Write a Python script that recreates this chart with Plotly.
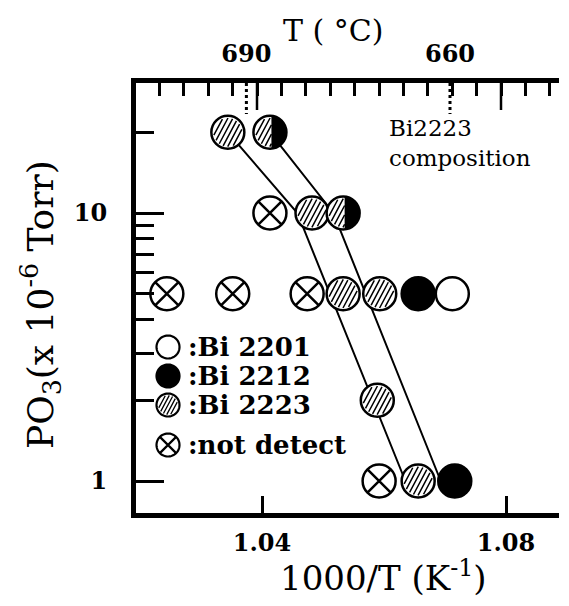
import numpy as np
import plotly.graph_objects as go

# ---------------- data ----------------
# x: 1000/T (K^-1), y: P_O3 (x 1e-6 Torr)
x_bi2201 = [1.0712]
y_bi2201 = [5]

x_bi2212 = [1.0656, 1.0716]
y_bi2212 = [5, 1]

x_bi2223 = [1.0344, 1.0482, 1.0533, 1.0593, 1.0589, 1.0656]
y_bi2223 = [20, 10, 5, 5, 2, 1]

x_mixed = [1.0413, 1.0533]          # Bi2223 + Bi2212 (half filled)
y_mixed = [20, 10]

x_notdet = [1.0244, 1.0352, 1.0474, 1.0413, 1.0592]
y_notdet = [5, 5, 5, 10, 1]

x_bound_lo = [1.0344, 1.0458, 1.0635]
y_bound_lo = [20, 10, 1]
x_bound_hi = [1.0413, 1.0517, 1.0693]
y_bound_hi = [20, 10, 1]

x_ticks = [1.04, 1.08]
x_ticklabels = ["1.04", "1.08"]
y_ticks = [1, 10]
y_ticklabels = ["1", "10"]
y_minor = [2, 3, 4, 5, 6, 7, 8, 9, 20]
top_T = [690, 660]                 # deg C
legend_labels = [":Bi 2201", ":Bi 2212", ":Bi 2223", ":not detect"]

# ---------------- layout geometry ----------------
PAGE_OFF = 8                        # default body margin of the html page
W, H = 569 - PAGE_OFF, 606 - PAGE_OFF
ML, MT = 136 - PAGE_OFF, 83 - PAGE_OFF
PW, PH = 423, 430
MR, MB = W - ML - PW, H - MT - PH
PX_X = 6100.0      # px per unit of 1000/T
PX_DEC = 268.0     # px per decade
x0 = 1.04 - 126 / PX_X
xrange_ = [x0, x0 + PW / PX_X]
y0 = -32 / PX_DEC
yrange_ = [y0, y0 + PH / PX_DEC]
top_shift = 5 / PX_X
xrange_top = [xrange_[0] + top_shift, xrange_[1] + top_shift]

# helpers: reference-picture pixel -> paper fraction
def px(xp):
    return (xp - 136) / PW

def py(yp):
    return (513 - yp) / PH

SERIF = "DejaVu Serif"
MS = 33        # marker diameter
MR_ = MS / 2
LW = 2.5


def circle_path(r, a0=0.0, a1=2 * np.pi, n=60):
    th = np.linspace(a0, a1, n)
    xs, ys = r * np.cos(th), r * np.sin(th)
    return "M" + " L".join(f"{x:.2f},{y:.2f}" for x, y in zip(xs, ys)) + " Z"


def hatch_path(r, spacing, ang=62, xmax=None):
    a = np.radians(ang)
    d = np.array([np.cos(a), np.sin(a)])
    nrm = np.array([-np.sin(a), np.cos(a)])
    m = int(2 * r / spacing)
    offs = (np.arange(m) - (m - 1) / 2) * spacing
    parts = []
    for off in offs:
        h = np.sqrt(max(r * r - off * off, 0))
        t0, t1 = -h, h
        if xmax is not None:
            tl = (xmax - off * nrm[0]) / d[0]
            t1 = min(t1, tl)
        if t1 - t0 < 1:
            continue
        p0 = off * nrm + t0 * d
        p1 = off * nrm + t1 * d
        parts.append(f"M{p0[0]:.2f},{p0[1]:.2f} L{p1[0]:.2f},{p1[1]:.2f}")
    return " ".join(parts)


def x_path(r):
    c = r / np.sqrt(2)
    return f"M{-c:.2f},{-c:.2f} L{c:.2f},{c:.2f} M{-c:.2f},{c:.2f} L{c:.2f},{-c:.2f}"


def half_black_path(r, xcut):
    th = np.linspace(-np.pi / 2, np.pi / 2, 40)
    pts = [(max(r * np.cos(t), xcut), r * np.sin(t)) for t in th]
    s = f"M{xcut:.2f},{-r:.2f} L" + " L".join(f"{x:.2f},{y:.2f}" for x, y in pts)
    return s + f" L{xcut:.2f},{r:.2f} Z"


def pshape(path, xref, yref, xa, ya, lw=0.0, fill=None):
    d = dict(type="path", xref=xref, yref=yref, xsizemode="pixel", ysizemode="pixel",
             xanchor=xa, yanchor=ya, path=path,
             line=dict(color="black", width=lw))
    if fill is not None:
        d["fillcolor"] = fill
    return d


fig = go.Figure()

# boundary lines
for bx, by in [(x_bound_lo, y_bound_lo), (x_bound_hi, y_bound_hi)]:
    fig.add_trace(go.Scatter(x=bx, y=by, mode="lines",
                             line=dict(color="black", width=2), showlegend=False,
                             hoverinfo="skip"))

mk_line = dict(color="black", width=LW)
fig.add_trace(go.Scatter(x=x_bi2201, y=y_bi2201, mode="markers", name="Bi 2201",
                         marker=dict(symbol="circle", size=MS, color="white", line=mk_line)))
fig.add_trace(go.Scatter(x=x_bi2212, y=y_bi2212, mode="markers", name="Bi 2212",
                         marker=dict(symbol="circle", size=MS, color="black", line=mk_line)))
fig.add_trace(go.Scatter(x=x_bi2223, y=y_bi2223, mode="markers", name="Bi 2223",
                         marker=dict(symbol="circle", size=MS, color="white", line=mk_line)))
fig.add_trace(go.Scatter(x=x_mixed, y=y_mixed, mode="markers", name="Bi 2223 + Bi 2212",
                         marker=dict(symbol="circle", size=MS, color="white", line=mk_line)))
fig.add_trace(go.Scatter(x=x_notdet, y=y_notdet, mode="markers", name="not detect",
                         marker=dict(symbol="circle-x", size=MS, color="white", line=mk_line)))

shapes = []
# hatch on Bi2223 markers
hp = hatch_path(MR_ - 2.2, 4.4)
for xv, yv in zip(x_bi2223, y_bi2223):
    shapes.append(pshape(hp, "x", "y", xv, yv, lw=1.5))
# half hatched / half black
hp_half = hatch_path(MR_ - 2.2, 4.4, xmax=1.5)
hb = half_black_path(MR_, 1.5)
for xv, yv in zip(x_mixed, y_mixed):
    shapes.append(pshape(hp_half, "x", "y", xv, yv, lw=1.5))
    shapes.append(pshape(hb, "x", "y", xv, yv, lw=0, fill="black"))

# top axis: long ticks at 1.04 / 1.08 and dotted marks at 690 / 660 degC
top_pos = [1000.0 / (t + 273.15) for t in top_T]
for v in x_ticks:
    shapes.append(dict(type="line", xref="x2", yref="paper", ysizemode="pixel", yanchor=1,
                       x0=v, x1=v, y0=0, y1=-27,
                       line=dict(color="black", width=2.5)))
for p in top_pos:
    shapes.append(dict(type="line", xref="x2", yref="paper", ysizemode="pixel", yanchor=1,
                       x0=p, x1=p, y0=0, y1=-31,
                       line=dict(color="black", width=3, dash="dot")))

# legend icons (paper coords)
leg_x = px(168)
leg_ys = [py(yy) for yy in (347, 376, 405, 445)]
lr = 11.5
circ = circle_path(lr)
shapes.append(pshape(circ, "paper", "paper", leg_x, leg_ys[0], lw=2.2, fill="white"))
shapes.append(pshape(circ, "paper", "paper", leg_x, leg_ys[1], lw=2.2, fill="black"))
shapes.append(pshape(circ, "paper", "paper", leg_x, leg_ys[2], lw=2.2, fill="white"))
shapes.append(pshape(hatch_path(lr - 1.8, 3.4), "paper", "paper", leg_x, leg_ys[2], lw=1.3))
shapes.append(pshape(circ, "paper", "paper", leg_x, leg_ys[3], lw=2.2, fill="white"))
shapes.append(pshape(x_path(lr), "paper", "paper", leg_x, leg_ys[3], lw=2.2))

annotations = []
for lab, ly in zip(legend_labels, leg_ys):
    annotations.append(dict(text=lab, xref="paper", yref="paper", x=px(186), y=ly,
                            xanchor="left", yanchor="middle", showarrow=False,
                            font=dict(family=SERIF, size=26, color="black", weight="bold")))

annotations.append(dict(text="Bi2223<br>composition", xref="paper", yref="paper",
                        x=px(387), y=py(113), align="left",
                        xanchor="left", yanchor="top", showarrow=False,
                        font=dict(family=SERIF, size=23, color="black")))
annotations.append(dict(text="PO<sub>3</sub>(x 10<sup>-6</sup> Torr)", xref="paper", yref="paper",
                        x=px(41), y=py(305), textangle=-90,
                        xanchor="center", yanchor="middle", showarrow=False,
                        font=dict(family=SERIF, size=36, color="black")))
annotations.append(dict(text="1000/T (K<sup>-1</sup>)", xref="paper", yref="paper",
                        x=px(383), y=py(576),
                        xanchor="center", yanchor="middle", showarrow=False,
                        font=dict(family=SERIF, size=34, color="black")))
annotations.append(dict(text="T ( °C)", xref="paper", yref="paper",
                        x=px(333), y=py(30),
                        xanchor="center", yanchor="middle", showarrow=False,
                        font=dict(family=SERIF, size=30, color="black")))

tickfont = dict(family=SERIF, size=24, color="black", weight="bold")

fig.update_layout(
    width=W, height=H,
    margin=dict(l=ML, r=MR, t=MT, b=MB, pad=0),
    paper_bgcolor="white", plot_bgcolor="white",
    showlegend=False,
    shapes=shapes,
    annotations=annotations,
    xaxis=dict(range=xrange_, showgrid=False, zeroline=False,
               showline=True, linewidth=5, linecolor="black",
               tickmode="array", tickvals=x_ticks, ticktext=x_ticklabels,
               ticks="inside", ticklen=17, tickwidth=2.5, tickcolor="black",
               tickfont=tickfont, ticklabelstandoff=4),
    xaxis2=dict(range=xrange_top, overlaying="x", side="top", anchor="y",
                showgrid=False, zeroline=False,
                showline=True, linewidth=5, linecolor="black",
                tickmode="array", tickvals=top_pos, ticktext=[str(t) for t in top_T],
                ticks="", tickfont=tickfont, ticklabelstandoff=6,
                minor=dict(ticks="inside", ticklen=13, tickwidth=2.5, tickcolor="black",
                           tickmode="linear", dtick=0.004, tick0=0, showgrid=False)),
    yaxis=dict(type="log", range=yrange_, showgrid=False, zeroline=False,
               showline=True, linewidth=5, linecolor="black",
               tickmode="array", tickvals=y_ticks, ticktext=y_ticklabels,
               ticks="inside", ticklen=28, tickwidth=2.5, tickcolor="black",
               tickfont=tickfont, ticklabelstandoff=19,
               minor=dict(ticks="inside", ticklen=18, tickwidth=2.5, tickcolor="black",
                          tickmode="array", tickvals=y_minor, showgrid=False)),
    yaxis2=dict(type="log", range=yrange_, overlaying="y", side="right", anchor="x",
                showgrid=False, zeroline=False,
                showline=True, linewidth=5, linecolor="black",
                tickmode="array", tickvals=y_ticks, showticklabels=False,
                ticks="inside", ticklen=18, tickwidth=2.5, tickcolor="black",
                minor=dict(ticks="inside", ticklen=9, tickwidth=2.5, tickcolor="black",
                           tickmode="array", tickvals=y_minor, showgrid=False)),
)

fig.write_html("out.html")
